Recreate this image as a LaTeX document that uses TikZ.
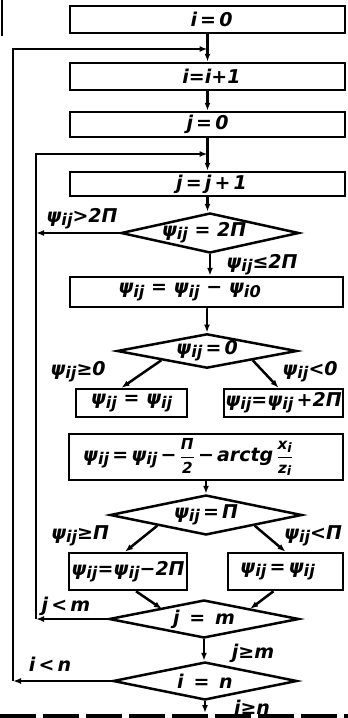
\documentclass[tikz,border=0pt]{standalone}
\usepackage{fontspec}
\usepackage{amsmath}
\usepackage{graphicx}
\setmainfont{DejaVu Sans}
\usetikzlibrary{shapes.geometric,arrows.meta}
\newcommand\sbx[1]{\raisebox{-0.3ex}{\scalebox{0.85}{#1}}}
\newcommand\pij{ψ\sbx{ij}}
\newcommand\frc[2]{\ensuremath{\dfrac{\text{\scalebox{0.8}{#1}}}{\text{\scalebox{0.8}{#2}}}}}
\begin{document}
\begin{tikzpicture}[x=1pt,y=-1pt,
  txt/.style={font=\fontsize{19}{21}\selectfont\bfseries\itshape, inner sep=0pt},
  box/.style={txt, draw, line width=2.5pt},
  dia/.style={txt, draw, line width=2.5pt, diamond, shape aspect=4.5},
  lbl/.style={txt},
  arr/.style={line width=2.5pt, -{Latex[length=8pt,width=6pt]}},
]
\useasboundingbox (0,0) rectangle (348,718);

% boxes
\node[box, minimum width=275pt, minimum height=27pt] (b0) at (207.5,19.5) {\hspace*{8pt}i\,=\,0};
\node[box, minimum width=275pt, minimum height=27pt] (b1) at (207.5,76.5) {\hspace*{8pt}i=i+1};
\node[box, minimum width=275pt, minimum height=25pt] (b2) at (207.5,124.5) {j\,=\,0};
\node[box, minimum width=275pt, minimum height=24pt] (b3) at (207.5,184) {\hspace*{8pt}j\,=\,j\,+\,1};
\node[dia, minimum width=178pt, minimum height=40pt] (d1) at (210,233) {\hspace*{-12pt}\pij\ = 2Π};
\node[box, minimum width=273pt, minimum height=30pt] (b4) at (206.5,292) {\hspace*{-34pt}\pij\ =\ \pij\ −\ ψ\sbx{i0}};
\node[dia, minimum width=180pt, minimum height=34pt] (d2) at (207,351) {\pij\,=\,0};
\node[box, minimum width=111pt, minimum height=28pt] (b5) at (131.5,403) {\pij\ =\ \pij};
\node[box, minimum width=119pt, minimum height=28pt] (b6) at (283.5,403) {\pij=\pij\,+2Π};
\node[box, minimum width=274pt, minimum height=46pt] (b7) at (206,457) {\hspace*{-36pt}\pij\,=\,\pij\,−\,\frc{Π}{2}\,−\,arctg\,\frc{x\sbx{i}}{z\sbx{i}}};
\node[dia, minimum width=192pt, minimum height=40pt] (d3) at (206,515) {\pij\,=\,Π};
\node[box, minimum width=118pt, minimum height=37pt] (b8) at (128,571.5) {\pij=\pij−2Π};
\node[box, minimum width=115pt, minimum height=37pt] (b9) at (285.5,571.5) {\hspace*{-16pt}\pij\,=\,\pij};
\node[dia, minimum width=190pt, minimum height=38pt] (d4) at (204,619) {j\ \,=\ \,m};
\node[dia, minimum width=184pt, minimum height=38pt] (d5) at (205,681) {i\ \,=\ \,n};

% coordinates for loops
\coordinate (m1) at (207.5,49);
\coordinate (m2) at (207.5,154);
\coordinate (c5) at (13,681);
\coordinate (c4) at (36,619);
\coordinate (c1) at (36,233);
\coordinate (endp) at (205,713);
\coordinate (tl) at (1.5,0);
\coordinate (tl2) at (1.5,36);

% main flow
\draw[arr] (b0.south) -- (b1.north);
\draw[arr] (b1.south) -- (b2.north);
\draw[arr] (b2.south) -- (b3.north);
\draw[arr] (b3.south) -- (b3.south |- d1.north);
\draw[arr] (d1.south) -- (d1.south |- b4.north);
\draw[arr] (b4.south) -- (b4.south -| d2.north) -- (d2.north);
\draw[arr] (d2.south west) -- ([xshift=-10pt]b5.north);
\draw[arr] (d2.south east) -- ([xshift=-5pt]b6.north);
\draw[arr] (b7.south) -- (b7.south |- d3.north);
\draw[arr] (d3.south west) -- ([xshift=-3pt]b8.north);
\draw[arr] (d3.south east) -- (b9.north);
\draw[arr] ([xshift=8pt]b8.south) -- ([xshift=6pt]d4.north west);
\draw[arr] ([xshift=-12pt]b9.south) -- ([xshift=-2pt]d4.north east);
\draw[arr] (d4.south) -- (d4.south |- d5.north);
\draw[arr] (d5.south) -- (endp);

% loops
\draw[arr] (d1.west) -- (c1);
\draw[arr] (d4.west) -- (c4);
\draw[arr] (c4) |- (m2);
\draw[arr] (d5.west) -- (c5);
\draw[arr] (c5) |- (m1);

% labels
\node[lbl] (l1) at (82,219) {\pij>2Π};
\node[lbl] (l2) at (262,265) {\pij≤2Π};
\node[lbl] (l3) at (78,372) {\pij≥0};
\node[lbl] (l4) at (310,372) {\pij<0};
\node[lbl] (l5) at (80,536) {\pij≥Π};
\node[lbl] (l6) at (313,536) {\pij<Π};
\node[lbl] (l7) at (66,606) {j\,<\,m};
\node[lbl] (l8) at (253,653) {j≥m};
\node[lbl] (l9) at (50,664) {i\,<\,n};
\node[lbl] (l10) at (252,707) {i≥n};

% bottom dashed bar and edge mark
\draw[line width=4pt, dash pattern=on 36pt off 7pt] (0,716) -- (348,716);
\draw[line width=2pt] (tl) -- (tl2);
\end{tikzpicture}
\end{document}
